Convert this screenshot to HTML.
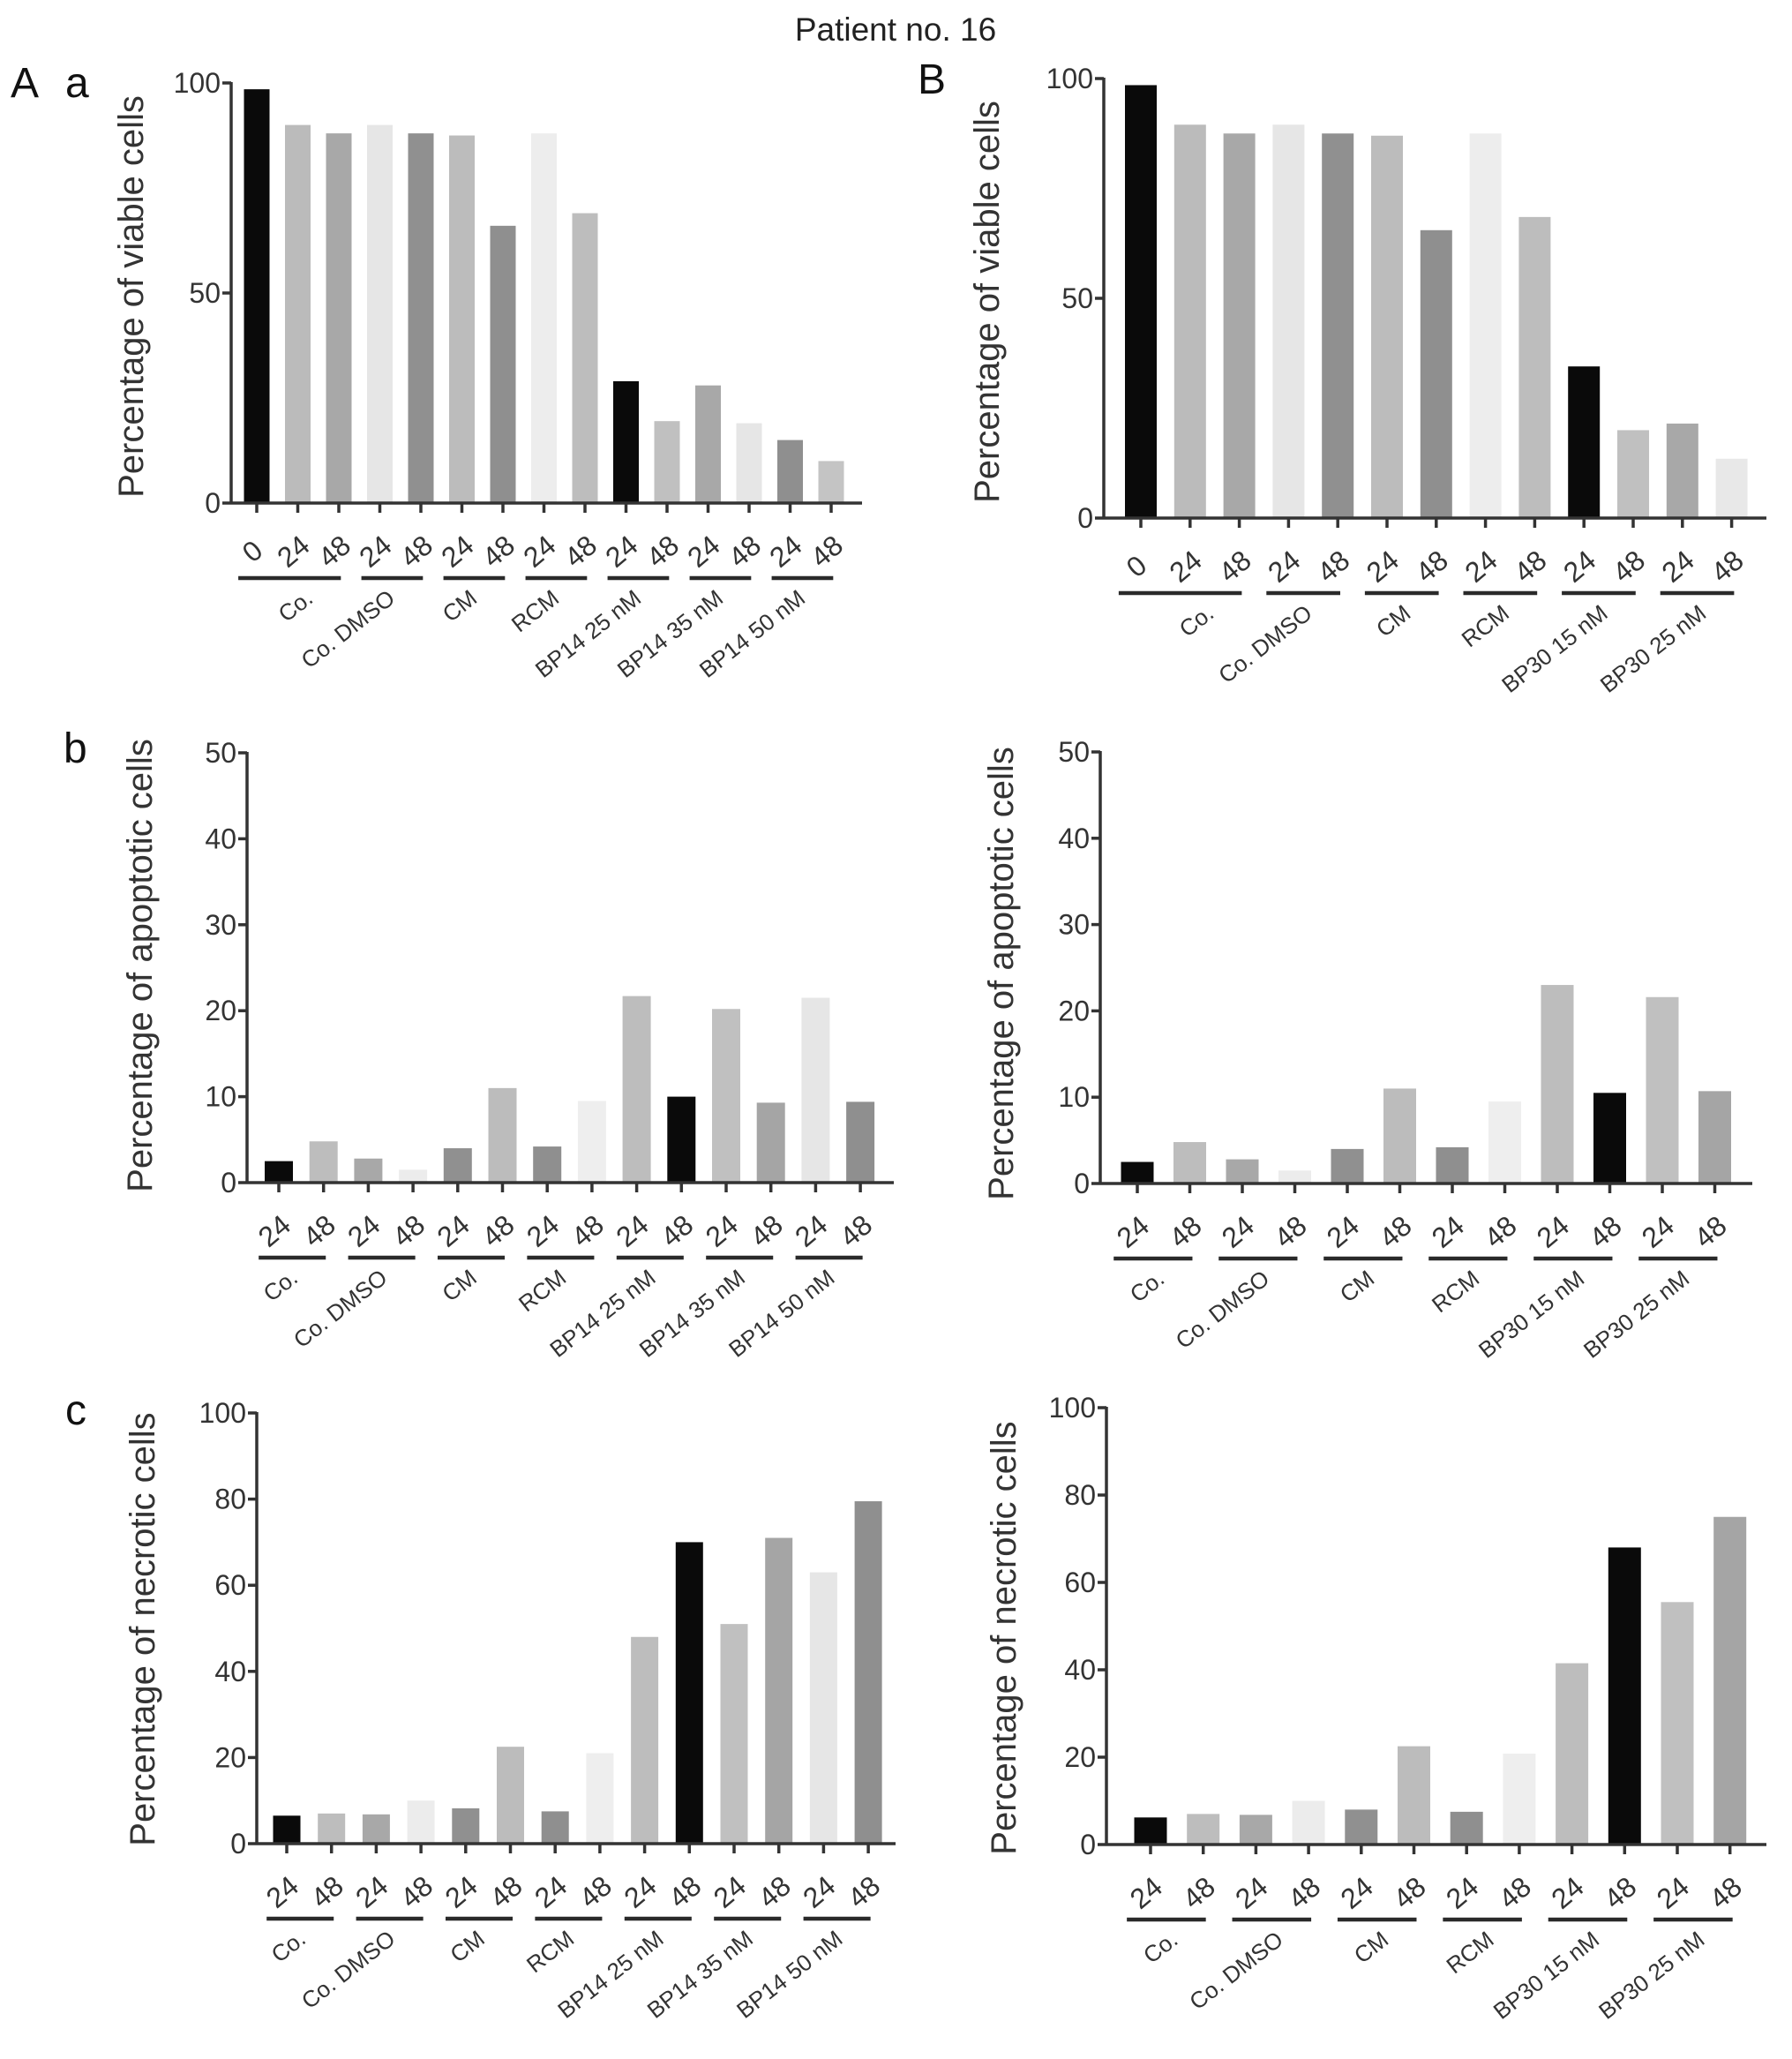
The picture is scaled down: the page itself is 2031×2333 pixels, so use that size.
<!DOCTYPE html>
<html><head><meta charset="utf-8"><style>
html,body{margin:0;padding:0;background:#fff;}
svg{display:block;font-family:"Liberation Sans",Arial,sans-serif;}
</style></head><body>
<svg id="fig" width="2031" height="2333" viewBox="0 0 2031 2333" xmlns="http://www.w3.org/2000/svg">
<text x="1015" y="46" font-size="37" text-anchor="middle" fill="#222">Patient no. 16</text>
<text x="12" y="110" font-size="48" fill="#111">A</text>
<text x="74" y="110" font-size="48" fill="#111">a</text>
<text x="1040" y="106" font-size="48" fill="#111">B</text>
<text x="72" y="864" font-size="48" fill="#111">b</text>
<text x="74" y="1614" font-size="48" fill="#111">c</text>
</svg>
<script>
// ---- data arrays ----
const catsA = ["0","24","48","24","48","24","48","24","48","24","48","24","48","24","48"];
const catsB = ["0","24","48","24","48","24","48","24","48","24","48","24","48"];
const cats14 = ["24","48","24","48","24","48","24","48","24","48","24","48","24","48"];
const cats12 = ["24","48","24","48","24","48","24","48","24","48","24","48"];
const groupsA = ["Co.","Co. DMSO","CM","RCM","BP14 25 nM","BP14 35 nM","BP14 50 nM"];
const groupsB = ["Co.","Co. DMSO","CM","RCM","BP30 15 nM","BP30 25 nM"];
const viableA = [98.5,90,88,90,88,87.5,66,88,69,29,19.5,28,19,15,10];
const viableB = [98.5,89.5,87.5,89.5,87.5,87,65.5,87.5,68.5,34.5,20,21.5,13.5];
const apopA = [2.5,4.8,2.8,1.5,4,11,4.2,9.5,21.7,10,20.2,9.3,21.5,9.4];
const apopB = [2.5,4.8,2.8,1.5,4,11,4.2,9.5,23,10.5,21.6,10.7];
const necA = [6.5,7,6.8,10,8.2,22.5,7.5,21,48,70,51,71,63,79.5];
const necB = [6.2,7,6.8,10,8,22.5,7.5,20.8,41.5,68,55.5,75];
const ticks100by50 = [0,50,100];
const ticks50by10 = [0,10,20,30,40,50];
const ticks100by20 = [0,20,40,60,80,100];
const colsViA = ["#0a0a0a","#bbbbbb","#a8a8a8","#e6e6e6","#909090","#bcbcbc","#8f8f8f","#ededed","#bdbdbd","#0a0a0a","#c0c0c0","#a8a8a8","#e6e6e6","#8f8f8f","#c4c4c4"];
const colsViB = ["#0a0a0a","#bbbbbb","#a8a8a8","#e6e6e6","#909090","#bcbcbc","#8f8f8f","#ededed","#bdbdbd","#0a0a0a","#c0c0c0","#a8a8a8","#e8e8e8"];
const cols14 = ["#0a0a0a","#bdbdbd","#a8a8a8","#ececec","#909090","#bcbcbc","#8f8f8f","#eeeeee","#bdbdbd","#0a0a0a","#c0c0c0","#a5a5a5","#e6e6e6","#8f8f8f"];
const cols12 = ["#0a0a0a","#bdbdbd","#a8a8a8","#ececec","#909090","#bcbcbc","#8f8f8f","#eeeeee","#bdbdbd","#0a0a0a","#c0c0c0","#a5a5a5"];

const NS="http://www.w3.org/2000/svg";
const svg=document.getElementById('fig');
function mk(tag,attrs,parent){const e=document.createElementNS(NS,tag);for(const k in attrs)e.setAttribute(k,attrs[k]);(parent||svg).appendChild(e);return e;}

function chart(o){
  const g=mk('g',{});
  
  
  const yS=v=>o.y0-(v/o.ymax)*(o.y0-o.yTop);
  const xS=i=>o.c0+i*o.step;
  o.vals.forEach((v,i)=>{
    const r=mk('rect',{x:xS(i)-o.bw/2,y:yS(v),width:o.bw,height:o.y0-yS(v),fill:o.cols[i]},g);
    
    
  });
  const ya=mk('line',{x1:o.ax,y1:o.yTop-1,x2:o.ax,y2:o.y0+1.5,stroke:"#333","stroke-width":3.5},g);
  
  
  o.ticks.forEach(t=>{
    mk('line',{x1:o.ax-10,y1:yS(t),x2:o.ax,y2:yS(t),stroke:"#333","stroke-width":3.5},g);
    const tl=mk('text',{x:o.ax-12,y:yS(t)+11,"font-size":32,"text-anchor":"end",fill:"#333"},g);
    tl.textContent=t;
    
    
  });
  const xa=mk('line',{x1:o.ax,y1:o.y0,x2:o.xEnd,y2:o.y0,stroke:"#333","stroke-width":3.5},g);
  
  
  o.cats.forEach((c,i)=>{
    const x=xS(i);
    mk('line',{x1:x,y1:o.y0,x2:x,y2:o.y0+11,stroke:"#333","stroke-width":3.5},g);
    const tl=mk('text',{x:0,y:0,"font-size":32,"text-anchor":"middle",fill:"#333",transform:`translate(${x+2},${o.y0+63}) rotate(-40)`},g);
    tl.textContent=c;
    
    
  });
  let idx=o.first;
  o.groups.forEach((gname,k)=>{
    const i0=(k===0)?0:idx, i1=(k===0)?o.first+1:idx+1;
    const x1=xS(i0)-0.45*o.step, x2=xS(i1)+0.05*o.step;
    const ly=o.y0+85;
    const gl=mk('line',{x1:x1,y1:ly,x2:x2,y2:ly,stroke:"#2a2a2a","stroke-width":4.5},g);
    
    
    const gt=mk('text',{x:0,y:0,"font-size":26,"text-anchor":"end",fill:"#333",transform:`translate(${x2-30},${ly+26}) rotate(-38)`},g);
    gt.textContent=gname;
    
    
    idx=i1+1;
  });
  const at=mk('text',{x:0,y:0,"font-size":40,"text-anchor":"middle",fill:"#333",transform:`translate(${o.tx},${o.ty}) rotate(-90)`},g);
  at.textContent=o.title;
  
  
}
chart({name:"chart-viable-bp14",vals:viableA,cols:colsViA,cats:catsA,groups:groupsA,first:1,ax:262,xEnd:977,yTop:94,y0:570,ymax:100,ticks:ticks100by50,c0:291,step:46.5,bw:29,title:"Percentage of viable cells",tx:162,ty:336});
chart({name:"chart-viable-bp30",vals:viableB,cols:colsViB,cats:catsB,groups:groupsB,first:1,ax:1251,xEnd:2002,yTop:89,y0:587,ymax:100,ticks:ticks100by50,c0:1293,step:55.8,bw:36,title:"Percentage of viable cells",tx:1132,ty:342});
chart({name:"chart-apoptotic-bp14",vals:apopA,cols:cols14,cats:cats14,groups:groupsA,first:0,ax:280,xEnd:1013,yTop:853,y0:1340,ymax:50,ticks:ticks50by10,c0:316,step:50.7,bw:32,title:"Percentage of apoptotic cells",tx:172,ty:1094});
chart({name:"chart-apoptotic-bp30",vals:apopB,cols:cols12,cats:cats12,groups:groupsB,first:0,ax:1247,xEnd:1986,yTop:852,y0:1341,ymax:50,ticks:ticks50by10,c0:1289,step:59.5,bw:37,title:"Percentage of apoptotic cells",tx:1148,ty:1103});
chart({name:"chart-necrotic-bp14",vals:necA,cols:cols14,cats:cats14,groups:groupsA,first:0,ax:291,xEnd:1015,yTop:1601,y0:2089,ymax:100,ticks:ticks100by20,c0:325,step:50.7,bw:31,title:"Percentage of necrotic cells",tx:175,ty:1846});
chart({name:"chart-necrotic-bp30",vals:necB,cols:cols12,cats:cats12,groups:groupsB,first:0,ax:1254,xEnd:2002,yTop:1595,y0:2090,ymax:100,ticks:ticks100by20,c0:1304,step:59.7,bw:37,title:"Percentage of necrotic cells",tx:1151,ty:1856});
</script>
</body></html>
